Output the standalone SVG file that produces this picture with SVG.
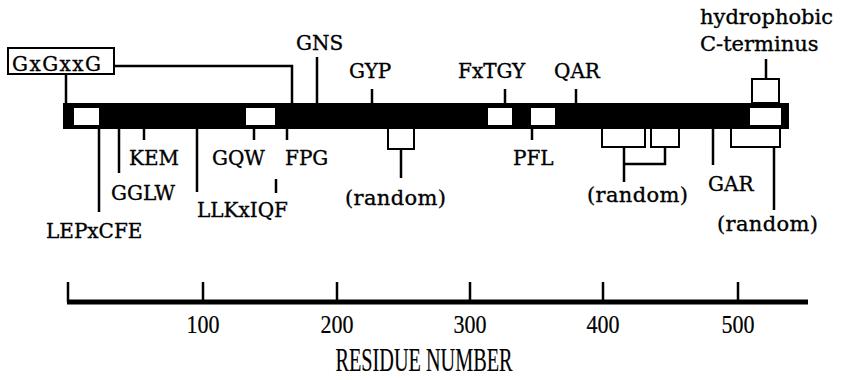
<svg xmlns="http://www.w3.org/2000/svg" width="844" height="380" viewBox="0 0 844 380">
<style>
.ln{stroke:#000;stroke-width:2.5;fill:none}
.bx{fill:#fff;stroke:#000;stroke-width:2}
.wb{fill:#fff}
text{font-family:"DejaVu Serif",serif;font-size:20px;fill:#000;stroke:#000;stroke-width:0.35}
.lc{font-size:21px}
.ax{font-family:"Liberation Serif",serif;font-size:25px;text-anchor:middle;stroke-width:0.2}
.tt{font-family:"Liberation Serif",serif;font-size:34px;text-anchor:middle;stroke-width:0.2}
</style>
<rect width="844" height="380" fill="#fff"/>
<g id="connectors">
<path class="ln" d="M66 74V103M114 66H292V103M317 57V103M372 89V103M505 89V103M576 89V103M766 59V79"/>
<path class="ln" d="M99 129V212M119 129V173M144 129V140M197 129V192M276 179V193M254 129V140M287 129V140M401 149V178M532 129V140M624 147V182M665 147V164H624M713 129V165M774 147V210"/>
</g>
<g id="protein-bar">
<rect x="63" y="103" width="726" height="26" fill="#000"/>
<rect class="wb" x="74" y="108" width="25" height="17"/>
<rect class="wb" x="246" y="108" width="29" height="17"/>
<rect class="wb" x="488" y="108" width="24" height="17"/>
<rect class="wb" x="531" y="108" width="24" height="17"/>
<rect class="wb" x="750" y="108" width="31" height="17"/>
</g>
<g id="motif-GxGxxG"><rect class="bx" x="8" y="48" width="106" height="26"/><text x="12" y="71" textLength="89">GxGxxG</text></g>
<g id="GNS"><text x="296" y="50">GNS</text></g>
<g id="GYP"><text x="349" y="78">GYP</text></g>
<g id="FxTGY"><text x="458" y="78">FxTGY</text></g>
<g id="QAR"><text x="554" y="78">QAR</text></g>
<g id="hydrophobic"><text class="lc" x="700" y="24">hydrophobic</text><text class="lc" x="700" y="51">C-terminus</text><rect class="bx" x="752" y="79" width="27" height="24"/></g>
<g id="KEM"><text x="129" y="165">KEM</text></g>
<g id="GQW"><text x="212" y="165">GQW</text></g>
<g id="FPG"><text x="285" y="165">FPG</text></g>
<g id="PFL"><text x="513" y="165">PFL</text></g>
<g id="GGLW"><text x="111" y="200">GGLW</text></g>
<g id="LLKxIQF"><text x="197" y="217">LLKxIQF</text></g>
<g id="LEPxCFE"><text x="46" y="238">LEPxCFE</text></g>
<g id="GAR"><text x="708" y="191">GAR</text></g>
<g id="random1"><rect class="bx" x="388" y="128" width="26" height="21"/><text class="lc" x="345" y="205" textLength="101">(random)</text></g>
<g id="random2"><rect class="bx" x="602" y="128" width="43" height="19"/><rect class="bx" x="651" y="128" width="28" height="19"/><text class="lc" x="587" y="202" textLength="101">(random)</text></g>
<g id="random3"><rect class="bx" x="731" y="128" width="49" height="19"/><text class="lc" x="717" y="231" textLength="101">(random)</text></g>
<g id="axis">
<path d="M67 302H808" stroke="#000" stroke-width="5"/>
<path class="ln" d="M68 282V302M203 282V302M337 282V302M470 282V302M603 282V302M738 282V302"/>
<text class="ax" x="203" y="333" textLength="33" lengthAdjust="spacingAndGlyphs">100</text>
<text class="ax" x="337" y="333" textLength="33" lengthAdjust="spacingAndGlyphs">200</text>
<text class="ax" x="470" y="333" textLength="33" lengthAdjust="spacingAndGlyphs">300</text>
<text class="ax" x="603" y="333" textLength="33" lengthAdjust="spacingAndGlyphs">400</text>
<text class="ax" x="738" y="333" textLength="33" lengthAdjust="spacingAndGlyphs">500</text>
<text class="tt" x="424" y="371" textLength="177" lengthAdjust="spacingAndGlyphs">RESIDUE NUMBER</text>
</g>
</svg>
